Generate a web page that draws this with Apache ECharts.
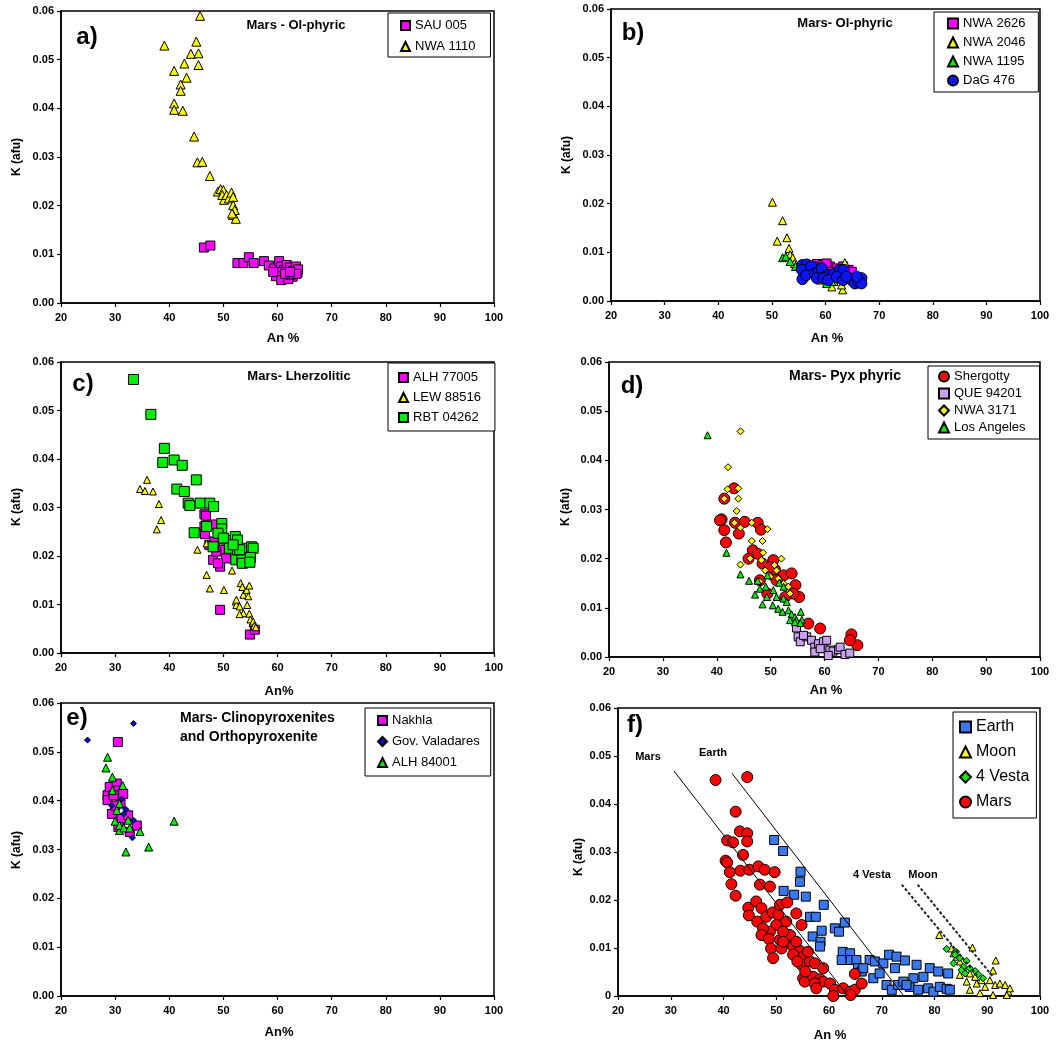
<!DOCTYPE html>
<html>
<head>
<meta charset="utf-8">
<script src="https://cdn.jsdelivr.net/npm/echarts@6/dist/echarts.min.js"></script>
<style>
  html, body { margin: 0; background: #fff; }
  #chart { width: 1060px; height: 1046px; }
</style>
</head>
<body>
<div id="chart"></div>
<script>
// axis ranges (same for all 6 panels)
var xMin = 20, xMax = 100, xStep = 10;
var yMin = 0, yMax = 0.06, yStep = 0.01;

// a) Mars - Ol-phyric
var SAU005 = [[46.4,0.0114],[47.6,0.0118],[52.6,0.0082],[53.7,0.0082],[54.7,0.0094],[55.6,0.0082],[57.5,0.0086],
  [58.4,0.0077],[59.4,0.0071],[60.3,0.0086],[60.7,0.0075],[59.8,0.0061],[61.2,0.0068],[61.7,0.0078],[62.3,0.0073],
  [62.0,0.0058],[62.9,0.0066],[63.4,0.0075],[63.7,0.0062],[62.8,0.0054],[60.9,0.0064],[59.7,0.0055],[60.7,0.0047],
  [62.0,0.0049],[62.4,0.0058],[63.8,0.0069],[63.5,0.0060],[61.4,0.0060],[59.2,0.0064],[62.3,0.0064]];
var NWA1110 = [[39.1,0.0529],[45.7,0.0590],[45.0,0.0537],[44.0,0.0512],[45.4,0.0513],[42.8,0.0492],[45.4,0.0489],
  [40.9,0.0477],[43.2,0.0463],[42.1,0.0449],[42.1,0.0436],[40.9,0.0410],[40.9,0.0397],[42.5,0.0395],[44.6,0.0342],
  [45.2,0.0289],[46.1,0.0290],[47.5,0.0261],[49.0,0.0229],[49.5,0.0234],[50.0,0.0232],[49.8,0.0222],[50.1,0.0212],
  [50.6,0.0222],[51.0,0.0215],[51.5,0.0227],[51.8,0.0218],[51.8,0.0201],[52.1,0.0191],[51.8,0.0181],[52.3,0.0173],[51.6,0.0184]];

// b) Mars- Ol-phyric
var NWA2626 = [[58.4,0.0076],[59.6,0.0074],[60.8,0.0071],[62.1,0.0067],[63.3,0.0071],[64.3,0.0064],[64.9,0.0060],
  [60.2,0.0077],[57.7,0.0071],[62.7,0.0057],[61.2,0.0060]];
var NWA2046 = [[50.1,0.0203],[52.0,0.0165],[51.0,0.0123],[52.8,0.0130],[53.2,0.0108],[53.4,0.0095],[53.9,0.0089],
  [54.2,0.0077],[63.6,0.0079],[61.2,0.0029],[61.6,0.0040],[63.2,0.0023],[63.0,0.0033],[59.0,0.0043]];
var NWA1195 = [[52.0,0.0089],[52.6,0.0091],[53.4,0.0081],[54.4,0.0071],[55.2,0.0074],[62.7,0.0045],[61.2,0.0040],
  [59.0,0.0050],[60.2,0.0036]];
var DaG476 = [[55.7,0.0074],[56.5,0.0075],[55.6,0.0064],[55.7,0.0045],[56.4,0.0053],[57.4,0.0071],[58.0,0.0056],
  [58.7,0.0060],[59.3,0.0067],[59.9,0.0050],[60.8,0.0053],[61.6,0.0056],[62.7,0.0064],[63.4,0.0064],[64.3,0.0047],
  [64.9,0.0043],[65.5,0.0036],[66.1,0.0040],[66.7,0.0047],[66.7,0.0036],[65.8,0.0050],[58.4,0.0047],[59.6,0.0047],
  [60.5,0.0043],[62.1,0.0050],[63.3,0.0043],[63.9,0.0050]];

// c) Mars- Lherzolitic
var ALH77005 = [[46.5,0.0286],[46.8,0.0283],[46.5,0.0261],[46.6,0.0245],[47.8,0.0264],[48.1,0.0265],[47.4,0.0223],
  [48.1,0.0192],[49.4,0.0213],[49.4,0.0178],[50.5,0.0195],[48.7,0.0209],[49.4,0.0089],[54.9,0.0038],[55.8,0.0048],
  [48.4,0.0230],[49.0,0.0185]];
var LEW88516 = [[34.6,0.0338],[35.5,0.0334],[35.9,0.0357],[37.0,0.0333],[38.1,0.0307],[38.5,0.0274],[37.7,0.0255],
  [45.2,0.0213],[46.9,0.0161],[47.5,0.0133],[50.1,0.0130],[51.6,0.0170],[50.1,0.0232],[46.9,0.0226],[52.3,0.0106],
  [52.4,0.0099],[53.0,0.0096],[53.2,0.0144],[53.5,0.0136],[53.7,0.0120],[54.3,0.0130],[54.8,0.0139],[54.6,0.0117],
  [53.7,0.0082],[54.4,0.0099],[54.8,0.0081],[55.0,0.0069],[55.4,0.0062],[55.5,0.0065],[55.7,0.0056],[56.0,0.0053],
  [53.0,0.0080],[52.4,0.0110],[48.7,0.0216]];
var RBT04262 = [[33.4,0.0564],[36.6,0.0492],[39.1,0.0422],[38.8,0.0393],[40.9,0.0398],[42.4,0.0387],[41.4,0.0338],
  [42.8,0.0333],[45.0,0.0357],[43.5,0.0309],[43.8,0.0304],[45.7,0.0309],[47.5,0.0309],[48.2,0.0302],[44.6,0.0248],
  [46.9,0.0261],[49.7,0.0267],[49.7,0.0256],[49.0,0.0247],[48.1,0.0219],[51.2,0.0232],[52.2,0.0240],[52.6,0.0233],
  [51.1,0.0216],[52.6,0.0211],[52.3,0.0192],[53.4,0.0192],[53.5,0.0185],[54.4,0.0216],[55.2,0.0219],[55.5,0.0216],
  [55.0,0.0197],[54.9,0.0187],[53.0,0.0213],[51.8,0.0223],[50.0,0.0237]];

// d) Mars- Pyx phyric
var Shergotty = [[40.9,0.0280],[40.6,0.0278],[41.4,0.0258],[41.7,0.0233],[41.4,0.0322],[43.2,0.0343],[44.1,0.0251],
  [43.4,0.0273],[45.2,0.0275],[47.6,0.0273],[48.2,0.0259],[46.7,0.0217],[47.6,0.0210],[45.9,0.0200],[48.5,0.0190],
  [50.5,0.0197],[50.8,0.0178],[52.4,0.0166],[53.9,0.0170],[54.6,0.0146],[55.3,0.0122],[54.2,0.0129],[52.7,0.0122],
  [49.4,0.0129],[57.0,0.0068],[59.2,0.0058],[65.0,0.0046],[66.1,0.0024],[64.7,0.0034],[48.0,0.0156],[51.1,0.0156],[49.9,0.0183]];
var QUE94201 = [[54.8,0.0059],[55.1,0.0041],[55.5,0.0031],[56.7,0.0041],[57.6,0.0034],[58.2,0.0020],[58.9,0.0027],
  [59.8,0.0031],[60.4,0.0034],[59.9,0.0017],[61.0,0.0014],[61.6,0.0012],[62.6,0.0015],[62.9,0.0020],[63.8,0.0005],
  [64.7,0.0008],[60.7,0.0003],[58.2,0.0010],[56.1,0.0044],[59.2,0.0017]];
var NWA3171 = [[44.4,0.0459],[42.1,0.0386],[42.0,0.0341],[44.0,0.0343],[41.4,0.0322],[44.0,0.0322],[43.7,0.0297],
  [43.3,0.0273],[44.4,0.0263],[46.5,0.0273],[49.4,0.0260],[46.5,0.0236],[48.5,0.0236],[44.4,0.0188],[46.2,0.0200],
  [48.6,0.0212],[48.3,0.0197],[52.0,0.0200],[50.7,0.0187],[51.1,0.0176],[49.0,0.0176],[48.0,0.0153],[51.4,0.0159],
  [52.4,0.0149],[53.3,0.0143],[53.6,0.0129],[49.9,0.0163]];
var LosAngeles = [[38.3,0.0451],[41.8,0.0212],[44.4,0.0168],[46.0,0.0155],[47.6,0.0155],[47.1,0.0127],[48.0,0.0139],
  [48.5,0.0107],[49.1,0.0143],[49.3,0.0122],[50.4,0.0105],[50.5,0.0136],[51.4,0.0098],[51.1,0.0122],[52.4,0.0119],
  [52.2,0.0092],[53.3,0.0095],[53.9,0.0087],[54.5,0.0081],[54.8,0.0075],[55.6,0.0092],[55.8,0.0076],[53.6,0.0075],
  [54.5,0.0071],[55.5,0.0069],[52.4,0.0143],[51.6,0.0151],[49.4,0.0166],[53.0,0.0112]];

// e) Mars- Clinopyroxenites and Orthopyroxenite
var Nakhla = [[30.5,0.0520],[28.6,0.0411],[28.6,0.0401],[29.4,0.0373],[29.0,0.0428],[30.3,0.0435],[30.6,0.0421],
  [31.5,0.0414],[31.0,0.0394],[30.0,0.0390],[31.2,0.0363],[32.4,0.0370],[32.7,0.0336],[34.0,0.0349],[30.6,0.0346],[29.7,0.0411]];
var GovValadares = [[24.9,0.0524],[33.4,0.0558],[29.4,0.0390],[31.2,0.0403],[31.6,0.0373],[32.0,0.0382],[33.4,0.0360],[33.2,0.0324]];
var ALH84001 = [[28.6,0.0489],[28.3,0.0467],[29.5,0.0448],[29.5,0.0421],[31.4,0.0431],[30.8,0.0394],[30.3,0.0380],
  [30.0,0.0358],[30.8,0.0339],[30.8,0.0349],[31.6,0.0344],[32.4,0.0360],[32.7,0.0344],[34.6,0.0337],[32.0,0.0295],
  [36.2,0.0305],[40.9,0.0358]];

// f) Earth / Moon / 4 Vesta / Mars
var Earth = [[49.6,0.0325],[51.3,0.0302],[54.6,0.0259],[54.5,0.0238],[51.4,0.0219],[53.4,0.0211],[55.6,0.0207],
  [56.4,0.0165],[57.5,0.0165],[59.0,0.0190],[56.9,0.0124],[58.6,0.0136],[58.4,0.0113],[58.3,0.0103],[61.1,0.0141],
  [61.9,0.0134],[63.0,0.0153],[62.6,0.0092],[62.4,0.0075],[64.0,0.0089],[64.1,0.0075],[65.2,0.0075],[65.5,0.0058],
  [66.2,0.0051],[67.7,0.0075],[68.7,0.0072],[70.3,0.0068],[71.4,0.0086],[72.8,0.0082],[74.4,0.0074],[76.6,0.0065],
  [72.5,0.0058],[68.4,0.0037],[70.9,0.0023],[71.9,0.0013],[73.1,0.0023],[74.1,0.0030],[75.3,0.0019],[76.0,0.0037],
  [77.9,0.0040],[79.1,0.0058],[80.7,0.0051],[82.6,0.0047],[78.8,0.0016],[79.8,0.0009],[81.0,0.0019],[82.3,0.0015],
  [82.9,0.0013],[76.9,0.0013],[74.7,0.0023],[69.6,0.0047],[66.5,0.0058]];
var Moon = [[80.9,0.0127],[87.2,0.0101],[91.6,0.0074],[91.1,0.0053],[83.2,0.0099],[83.6,0.0089],[84.2,0.0082],
  [84.8,0.0072],[85.5,0.0058],[86.7,0.0047],[87.7,0.0040],[86.1,0.0030],[88.0,0.0026],[88.9,0.0033],[89.6,0.0019],
  [90.5,0.0033],[91.5,0.0023],[92.4,0.0026],[93.4,0.0023],[94.0,0.0009],[94.3,0.0016],[88.6,0.0006],[91.1,0.0002],
  [93.7,0.0002],[86.7,0.0013],[84.8,0.0044]];
var Vesta = [[82.3,0.0098],[83.6,0.0068],[84.1,0.0092],[84.8,0.0079],[85.5,0.0061],[86.1,0.0073],[85.8,0.0047],
  [86.7,0.0058],[87.7,0.0052],[88.3,0.0045],[89.2,0.0037],[83.9,0.0086],[85.1,0.0054]];
var MarsAll = [[38.5,0.0450],[44.5,0.0456],[42.3,0.0384],[40.7,0.0324],[41.8,0.0320],[43.1,0.0343],[44.5,0.0339],
  [44.5,0.0322],[43.7,0.0294],[40.4,0.0282],[40.7,0.0278],[41.2,0.0258],[41.5,0.0233],[42.3,0.0209],[43.2,0.0261],
  [44.9,0.0263],[46.6,0.0270],[47.8,0.0263],[49.7,0.0258],[46.9,0.0232],[48.8,0.0228],[44.7,0.0184],[44.8,0.0168],
  [46.2,0.0197],[46.4,0.0155],[47.2,0.0183],[48.1,0.0165],[49.3,0.0174],[50.4,0.0169],[50.7,0.0190],[52.1,0.0195],
  [53.8,0.0172],[54.8,0.0148],[51.9,0.0155],[50.0,0.0148],[48.8,0.0134],[47.5,0.0141],[47.2,0.0127],[48.6,0.0119],
  [50.7,0.0117],[51.9,0.0113],[53.2,0.0103],[54.5,0.0094],[55.1,0.0082],[54.8,0.0065],[56.4,0.0072],[57.3,0.0068],
  [58.9,0.0058],[55.1,0.0037],[55.4,0.0030],[57.0,0.0040],[58.3,0.0035],[58.9,0.0030],[60.2,0.0026],[61.1,0.0013],
  [62.7,0.0016],[64.0,0.0009],[64.9,0.0013],[66.2,0.0026],[64.9,0.0046],[57.3,0.0026],[52.6,0.0127],[51.3,0.0134],
  [53.8,0.0113],[56.0,0.0092],[49.0,0.0099],[51.0,0.0099],[53.2,0.0086],[54.0,0.0072],[55.5,0.0051],[57.6,0.0016],
  [60.8,0.0000],[64.1,0.0002],[49.4,0.0079],[51.3,0.0113]];
// trend lines in f)
var lineMars = [[30.6,0.0469],[63.6,0.0]];
var lineEarth = [[41.6,0.0464],[74.2,0.0]];
var lineVesta = [[73.8,0.0232],[88.3,0.0040]];
var lineMoon = [[76.8,0.0232],[91.1,0.0040]];

var FONT = "'Liberation Sans', Arial, sans-serif";
var MAGENTA = '#ff00ff', YELLOW = '#ffff00', GREEN = '#00ee00', BLUE = '#0a14ff',
    RED = '#ff0000', LILAC = '#c9a0f0', NAVY = '#0010c8', SKY = '#3a78f0';

var grids = [
  { left: 61,  top: 11,  width: 433, height: 292 },
  { left: 611, top: 9,   width: 429, height: 292 },
  { left: 61,  top: 362, width: 433, height: 291 },
  { left: 609, top: 362, width: 431, height: 295 },
  { left: 61,  top: 703, width: 433, height: 293 },
  { left: 618, top: 708, width: 422, height: 288 }
];
grids.forEach(function (g) { g.show = true; g.borderColor = '#000'; g.borderWidth = 1.5; });

function xAx(i) {
  return {
    type: 'value', gridIndex: i, min: xMin, max: xMax, interval: xStep,
    axisLine: { lineStyle: { color: '#000', width: 1.5 } },
    axisTick: { length: 4, lineStyle: { color: '#000', width: 1.2 } },
    axisLabel: { color: '#000', fontSize: 11, fontWeight: 'bold', fontFamily: FONT, margin: 9 },
    splitLine: { show: false }
  };
}
function yAx(i) {
  return {
    type: 'value', gridIndex: i, min: yMin, max: yMax, interval: yStep,
    axisLine: { lineStyle: { color: '#000', width: 1.5 } },
    axisTick: { length: 4, lineStyle: { color: '#000', width: 1.2 } },
    axisLabel: {
      color: '#000', fontSize: 11, fontWeight: 'bold', fontFamily: FONT, margin: 7,
      formatter: function (v) { return (i === 5 && v === 0) ? '0' : v.toFixed(2); }
    },
    splitLine: { show: false }
  };
}

function sc(name, data, i, symbol, size, color) {
  return {
    type: 'scatter', name: name, data: data, xAxisIndex: i, yAxisIndex: i,
    symbol: symbol, symbolSize: size,
    itemStyle: { color: color, borderColor: '#000', borderWidth: 1, opacity: 1 },
    emphasis: { disabled: true }
  };
}
function ln(name, data, dashed) {
  return {
    type: 'line', name: name, data: data, xAxisIndex: 5, yAxisIndex: 5,
    symbol: 'none', silent: true,
    lineStyle: dashed ? { color: '#222', width: 2, type: [3, 2] } : { color: '#000', width: 1 }
  };
}

function lg(names, left, top, pad, gap, iw, fs) {
  return {
    data: names, left: left, top: top, orient: 'vertical', selectedMode: false,
    padding: pad, itemGap: gap, itemWidth: iw, itemHeight: iw,
    borderColor: '#000', borderWidth: 1, backgroundColor: '#fff',
    textStyle: { color: '#000', fontSize: fs, fontFamily: FONT }
  };
}

function txt(x, y, s, size, opts) {
  opts = opts || {};
  return {
    type: 'text', x: x, y: y, rotation: opts.rot || 0, z: 100,
    style: {
      text: s, fill: '#000', fontSize: size, fontWeight: opts.normal ? 'normal' : 'bold',
      fontFamily: FONT, align: opts.align || 'center', verticalAlign: 'middle', lineHeight: opts.lh
    }
  };
}

var series = [
  sc('SAU 005', SAU005, 0, 'rect', 9, MAGENTA),
  sc('NWA 1110', NWA1110, 0, 'triangle', 9, YELLOW),

  sc('NWA 2626', NWA2626, 1, 'rect', 9, MAGENTA),
  sc('NWA 2046', NWA2046, 1, 'triangle', 8, YELLOW),
  sc('NWA 1195', NWA1195, 1, 'triangle', 8, GREEN),
  sc('DaG 476', DaG476, 1, 'circle', 11, BLUE),

  sc('ALH 77005', ALH77005, 2, 'rect', 9, MAGENTA),
  sc('LEW 88516', LEW88516, 2, 'triangle', 7, YELLOW),
  sc('RBT 04262', RBT04262, 2, 'rect', 10, GREEN),

  sc('Shergotty', Shergotty, 3, 'circle', 11, RED),
  sc('QUE 94201', QUE94201, 3, 'rect', 8, LILAC),
  sc('NWA 3171', NWA3171, 3, 'diamond', 7, YELLOW),
  sc('Los Angeles', LosAngeles, 3, 'triangle', 7, GREEN),

  sc('Nakhla', Nakhla, 4, 'rect', 9, MAGENTA),
  sc('Gov. Valadares', GovValadares, 4, 'diamond', 6, NAVY),
  sc('ALH 84001', ALH84001, 4, 'triangle', 8, GREEN),

  ln('Mars line', lineMars, false),
  ln('Earth line', lineEarth, false),
  ln('Vesta line', lineVesta, true),
  ln('Moon line', lineMoon, true),
  sc('Earth', Earth, 5, 'rect', 9, SKY),
  sc('Moon', Moon, 5, 'triangle', 7, YELLOW),
  sc('4 Vesta', Vesta, 5, 'diamond', 7, GREEN),
  sc('Mars', MarsAll, 5, 'circle', 11, RED)
];

var graphics = [
  // panel letters
  txt(87, 37, 'a)', 24), txt(633, 33, 'b)', 24), txt(83, 384, 'c)', 24),
  txt(632, 386, 'd)', 24), txt(77, 718, 'e)', 24), txt(635, 725, 'f)', 24),
  // panel titles
  txt(296, 25, 'Mars - Ol-phyric', 13), txt(845, 23, 'Mars- Ol-phyric', 13),
  txt(299, 376, 'Mars- Lherzolitic', 13), txt(845, 376, 'Mars- Pyx phyric', 14),
  txt(180, 728, 'Mars- Clinopyroxenites\nand Orthopyroxenite', 14, { align: 'left', lh: 19 }),
  txt(648, 757, 'Mars', 11), txt(713, 753, 'Earth', 11),
  txt(872, 875, '4 Vesta', 11), txt(923, 875, 'Moon', 11),
  // axis titles
  txt(283, 338, 'An %', 13), txt(827, 338, 'An %', 13),
  txt(279, 691, 'An%', 13), txt(826, 690, 'An %', 13),
  txt(279, 1032, 'An%', 13), txt(830, 1035, 'An %', 13),
  txt(17, 157, 'K (afu)', 12, { rot: Math.PI / 2 }), txt(567, 155, 'K (afu)', 12, { rot: Math.PI / 2 }),
  txt(17, 507, 'K (afu)', 12, { rot: Math.PI / 2 }), txt(566, 507, 'K (afu)', 12, { rot: Math.PI / 2 }),
  txt(17, 850, 'K (afu)', 12, { rot: Math.PI / 2 }), txt(579, 857, 'K (afu)', 12, { rot: Math.PI / 2 })
];

var option = {
  animation: false,
  backgroundColor: '#fff',
  grid: grids,
  xAxis: [0, 1, 2, 3, 4, 5].map(xAx),
  yAxis: [0, 1, 2, 3, 4, 5].map(yAx),
  legend: [
    lg(['SAU 005', 'NWA 1110'], 388, 13, [6, 15, 4, 12], 8, 9, 13),
    lg(['NWA 2626', 'NWA 2046', 'NWA 1195', 'DaG 476'], 934, 12, [5, 13, 5, 13], 6, 10, 13),
    lg(['ALH 77005', 'LEW 88516', 'RBT 04262'], 388, 363, [8, 14, 7, 10], 7, 9, 13),
    lg(['Shergotty', 'QUE 94201', 'NWA 3171', 'Los Angeles'], 928, 366, [4, 14, 5, 10], 4, 10, 13),
    lg(['Nakhla', 'Gov. Valadares', 'ALH 84001'], 365, 708, [6, 11, 7, 12], 8, 9, 13),
    lg(['Earth', 'Moon', '4 Vesta', 'Mars'], 953, 712, [7, 7, 8, 6], 9, 11, 16)
  ],
  graphic: graphics,
  series: series
};

var chart = echarts.init(document.getElementById('chart'));
chart.setOption(option);
window.addEventListener('resize', function () { chart.resize(); });
</script>
</body>
</html>
